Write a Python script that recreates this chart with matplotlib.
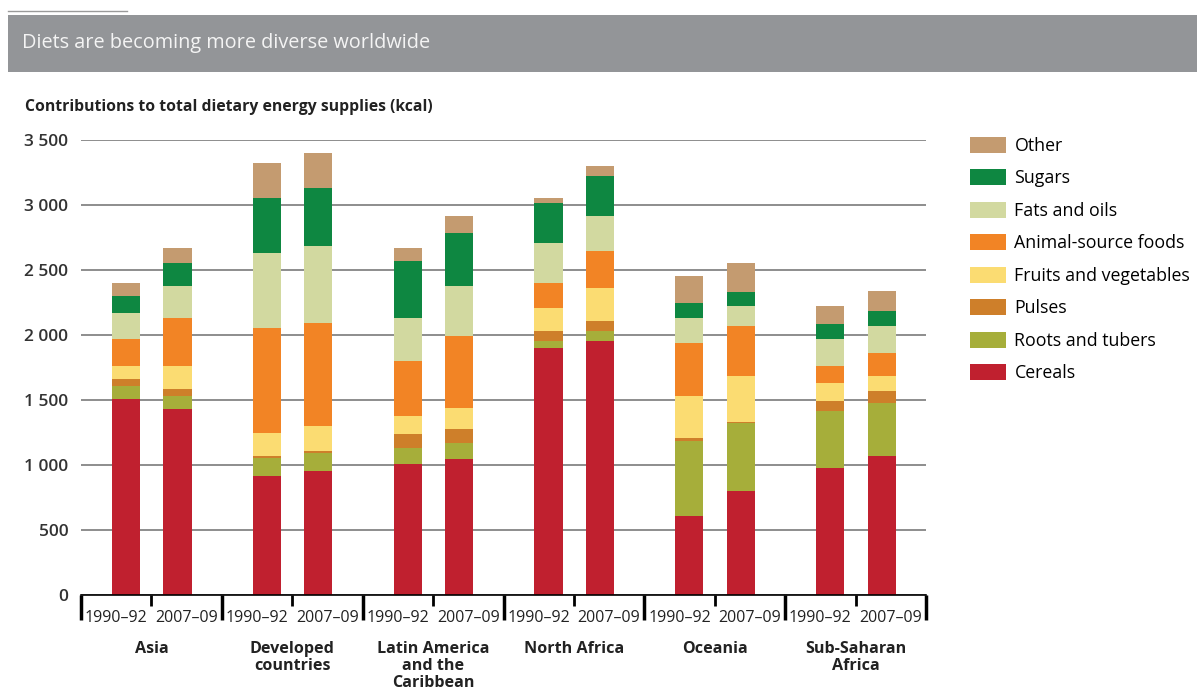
import numpy as np
import matplotlib
matplotlib.use('Agg')
import matplotlib.pyplot as plt
import matplotlib.patches as mpatches
from matplotlib.lines import Line2D
from matplotlib.ticker import FuncFormatter, FixedLocator

# Data (kcal per capita per day)
regions = ['Asia', 'Developed\ncountries', 'Latin America\nand the\nCaribbean',
           'North Africa', 'Oceania', 'Sub-Saharan\nAfrica']
periods = ['1990\u201392', '2007\u201309']

# order: region by region, 1990-92 then 2007-09
cereals = [1505, 1431, 915, 954, 1005, 1048, 1897, 1954, 608, 800, 974, 1069]
roots = [105, 100, 136, 136, 123, 119, 57, 77, 579, 521, 441, 405]
pulses = [54, 56, 18, 18, 110, 112, 77, 77, 18, 12, 77, 95]
fruits = [97, 174, 175, 194, 139, 157, 174, 251, 328, 352, 136, 116]
animal = [211, 367, 807, 788, 423, 556, 192, 287, 403, 384, 133, 174]
fats = [195, 249, 577, 595, 328, 385, 308, 272, 192, 154, 211, 212]
sugars = [133, 174, 423, 443, 441, 405, 308, 305, 116, 110, 113, 116]
other = [98, 116, 270, 269, 98, 136, 38, 80, 212, 218, 140, 154]

series = [
    ('Cereals', cereals, '#C0202F'),
    ('Roots and tubers', roots, '#A6AE3A'),
    ('Pulses', pulses, '#CE7F2A'),
    ('Fruits and vegetables', fruits, '#FBDC72'),
    ('Animal-source foods', animal, '#F28425'),
    ('Fats and oils', fats, '#D2D9A0'),
    ('Sugars', sugars, '#0E8741'),
    ('Other', other, '#C49B70'),
]

plt.rcParams['font.family'] = ['Open Sans', 'DejaVu Sans']

W, H = 1197, 693
fig = plt.figure(figsize=(W / 100, H / 100), dpi=100)

# header: thin rule + grey banner
fig.add_artist(Line2D([8 / W, 127 / W], [1 - 11 / H, 1 - 11 / H],
                      transform=fig.transFigure, color='#9a9a9a', lw=1))
fig.add_artist(mpatches.Rectangle((8 / W, 1 - 72 / H), 1 - 8 / W, 57 / H,
                                  transform=fig.transFigure,
                                  facecolor='#939598', edgecolor='none'))
fig.text(22 / W, 1 - 43 / H, 'Diets are becoming more diverse worldwide',
         color='#f4f4f4', fontsize=14.3, va='center', ha='left')
fig.text(25 / W, 1 - 107 / H,
         'Contributions to total dietary energy supplies (kcal)',
         color='#222222', fontsize=11.3, fontweight='bold', va='center', ha='left')

ax = fig.add_axes([81 / W, 1 - 595 / H, 845 / W, 455 / H])

n_groups = len(regions)
offsets = [0.32, 0.685]
bar_w = 0.2
x_pos = np.array([g + offsets[p] for g in range(n_groups) for p in range(2)])

bottom = np.zeros(len(x_pos))
handles = []
for name, vals, col in series:
    vals = np.array(vals, dtype=float)
    b = ax.bar(x_pos, vals, bar_w, bottom=bottom, color=col, label=name,
               zorder=3, linewidth=0)
    handles.append(b)
    bottom += vals

ax.set_xlim(0, n_groups)
ax.set_ylim(0, 3500)
ax.set_yticks(np.arange(0, 3501, 500))
ax.yaxis.set_major_formatter(FuncFormatter(lambda v, p: f'{int(v):,}'.replace(',', ' ')))
ax.yaxis.grid(True, color='#7a7a7a', lw=1.2, zorder=0)
ax.tick_params(axis='y', length=0, pad=9, labelsize=12.5, labelcolor='#333333')
for lab in ax.get_yticklabels():
    lab.set_fontweight('semibold')

for s in ['top', 'right', 'left']:
    ax.spines[s].set_visible(False)
ax.spines['bottom'].set_color('black')
ax.spines['bottom'].set_linewidth(1.2)
ax.spines['bottom'].set_zorder(4)

# group separators (long) and mid ticks (short)
ax.set_xticks(np.arange(0, n_groups + 1))
ax.xaxis.set_minor_locator(FixedLocator(np.arange(n_groups) + 0.5))
ax.tick_params(axis='x', which='major', length=18, width=2.5, labelbottom=False)
ax.tick_params(axis='x', which='minor', length=8, width=2)

# period labels
sec = ax.secondary_xaxis('bottom')
sec.set_xticks([g + 0.25 + 0.5 * p for g in range(n_groups) for p in range(2)])
sec.set_xticklabels(periods * n_groups, fontsize=11.5, color='#222222')
sec.tick_params(length=0, pad=11)
sec.spines['bottom'].set_visible(False)

# region labels
sec2 = ax.secondary_xaxis('bottom')
sec2.set_xticks(np.arange(n_groups) + 0.5)
sec2.set_xticklabels(regions, fontsize=11.6, fontweight='bold',
                     color='#222222', va='top', linespacing=1.08)
sec2.tick_params(length=0, pad=33)
sec2.spines['bottom'].set_visible(False)

leg = ax.legend(handles[::-1], [s[0] for s in series][::-1],
                loc='upper left', bbox_to_anchor=(970 / W, 1 - 137 / H),
                bbox_transform=fig.transFigure, frameon=False,
                fontsize=12.8, handlelength=2.05, handleheight=1.0,
                handletextpad=0.45, labelspacing=0.81, borderpad=0,
                borderaxespad=0)

fig.savefig('out.png', dpi=100)
